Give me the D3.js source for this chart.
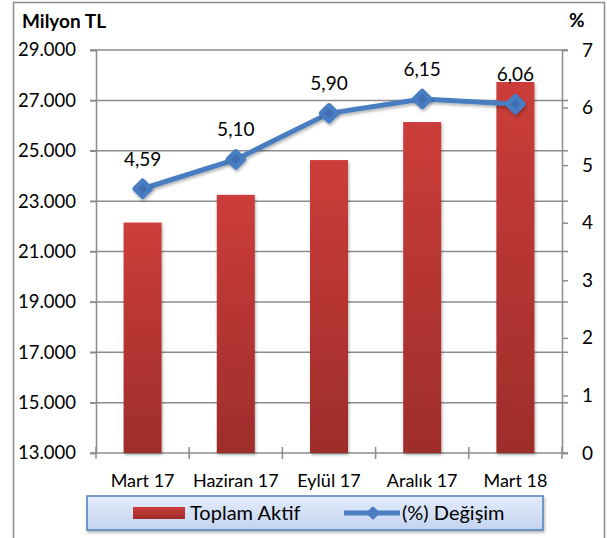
<!DOCTYPE html>
<html>
<head>
<meta charset="utf-8">
<script src="https://d3js.org/d3.v7.min.js"></script>
<style>
body { margin: 0; background: #fff; }
text { font-family: Lato, "Open Sans", sans-serif; }
</style>
</head>
<body>
<script>
// chart values
var categories = ["Mart 17", "Haziran 17", "Eylül 17", "Aralık 17", "Mart 18"];
var toplamAktif = [22150, 23250, 24630, 26140, 27730];
var degisim = [4.59, 5.10, 5.90, 6.15, 6.06];
var leftTicks = [13000, 15000, 17000, 19000, 21000, 23000, 25000, 27000, 29000];
var rightTicks = [0, 1, 2, 3, 4, 5, 6, 7];

var width = 607, height = 538;
var plotLeft = 96, plotRight = 562, plotTop = 50, plotBottom = 453;

var svg = d3.select("body").append("svg").attr("width", width).attr("height", height);
var defs = svg.append("defs");

var barGrad = defs.append("linearGradient").attr("id", "barGrad").attr("x1", 0).attr("y1", 0).attr("x2", 0).attr("y2", 1);
barGrad.append("stop").attr("offset", "0%").attr("stop-color", "#cc3d3a");
barGrad.append("stop").attr("offset", "100%").attr("stop-color", "#9e2d2b");

var legGrad = defs.append("linearGradient").attr("id", "legGrad").attr("x1", 0).attr("y1", 0).attr("x2", 0).attr("y2", 1);
legGrad.append("stop").attr("offset", "0%").attr("stop-color", "#e3ecfa");
legGrad.append("stop").attr("offset", "100%").attr("stop-color", "#c3d4f1");

var shadow = defs.append("filter").attr("id", "shadow").attr("x", "-30%").attr("y", "-30%").attr("width", "160%").attr("height", "160%");
shadow.append("feDropShadow").attr("dx", 1).attr("dy", 2).attr("stdDeviation", 1.5).attr("flood-color", "#000").attr("flood-opacity", 0.3);

// outer border
svg.append("rect").attr("x", 13.5).attr("y", 2.5).attr("width", 591).attr("height", 560)
  .attr("fill", "none").attr("stroke", "#8c8c8c").attr("stroke-width", 1.5);

var x = d3.scaleBand().domain(categories).range([plotLeft, plotRight]).paddingInner(0).paddingOuter(0);
var yL = d3.scaleLinear().domain([13000, 29000]).range([plotBottom, plotTop]);
var yR = d3.scaleLinear().domain([0, 7]).range([plotBottom, plotTop]);

// gridlines
svg.append("g").selectAll("line").data(leftTicks).join("line")
  .attr("x1", plotLeft - 6).attr("x2", plotRight + 6)
  .attr("y1", d => yL(d)).attr("y2", d => yL(d))
  .attr("stroke", "#8c8c8c").attr("stroke-width", 1.5);

// left axis
var axL = svg.append("g").attr("transform", "translate(" + plotLeft + ",0)")
  .call(d3.axisLeft(yL).tickValues(leftTicks).tickSize(6).tickPadding(14)
    .tickFormat(d => d3.format(",")(d).replace(",", ".") ));
axL.select(".domain").attr("stroke", "#8c8c8c").attr("stroke-width", 1.5);
axL.selectAll(".tick line").attr("stroke", "#8c8c8c").attr("stroke-width", 1.5);
axL.selectAll("text").attr("font-size", 18.5).attr("fill", "#000").attr("font-family", "Lato, sans-serif");

// right axis
var axR = svg.append("g").attr("transform", "translate(" + plotRight + ",0)")
  .call(d3.axisRight(yR).tickValues(rightTicks).tickSize(6).tickPadding(14).tickFormat(d3.format("d")));
axR.select(".domain").attr("stroke", "#8c8c8c").attr("stroke-width", 1.5);
axR.selectAll(".tick line").attr("stroke", "#8c8c8c").attr("stroke-width", 1.5);
axR.selectAll("text").attr("font-size", 19).attr("fill", "#000").attr("font-family", "Lato, sans-serif");

// bottom axis with ticks at category boundaries
svg.append("g").selectAll("line").data(d3.range(categories.length + 1)).join("line")
  .attr("x1", d => plotLeft + d * x.step()).attr("x2", d => plotLeft + d * x.step())
  .attr("y1", plotBottom - 6).attr("y2", plotBottom + 6)
  .attr("stroke", "#8c8c8c").attr("stroke-width", 1.5);
svg.append("g").selectAll("text").data(categories).join("text")
  .attr("x", d => x(d) + x.bandwidth() / 2).attr("y", 487)
  .attr("text-anchor", "middle").attr("font-size", 18).text(d => d);

// bars
var barW = 38;
svg.append("g").selectAll("rect").data(toplamAktif).join("rect")
  .attr("x", (d, i) => x(categories[i]) + x.bandwidth() / 2 - barW / 2)
  .attr("y", d => yL(d))
  .attr("width", barW)
  .attr("height", d => plotBottom - yL(d))
  .attr("fill", "url(#barGrad)")
  .attr("filter", "url(#shadow)");

// line
var line = d3.line().x((d, i) => x(categories[i]) + x.bandwidth() / 2).y(d => yR(d));
svg.append("path").datum(degisim).attr("d", line)
  .attr("fill", "none").attr("stroke", "#4a7dc1").attr("stroke-width", 5)
  .attr("filter", "url(#shadow)");

var markers = svg.append("g").selectAll("g").data(degisim).join("g")
  .attr("transform", (d, i) => "translate(" + (x(categories[i]) + x.bandwidth() / 2) + "," + yR(d) + ")")
  .attr("filter", "url(#shadow)");
markers.append("rect").attr("x", -8).attr("y", -8).attr("width", 16).attr("height", 16)
  .attr("rx", 2.5).attr("transform", "rotate(45)").attr("fill", "#4a7dc1");
markers.append("rect").attr("x", -3.5).attr("y", -3.5).attr("width", 7).attr("height", 7)
  .attr("transform", "rotate(45)").attr("fill", "#3f6fb3");

// value labels
svg.append("g").selectAll("text").data(degisim).join("text")
  .attr("x", (d, i) => x(categories[i]) + x.bandwidth() / 2)
  .attr("y", d => yR(d) - 23)
  .attr("text-anchor", "middle").attr("font-size", 19)
  .text(d => d.toFixed(2).replace(".", ","));

// axis titles
svg.append("text").attr("x", 22).attr("y", 28).attr("font-size", 19).attr("font-weight", "bold").text("Milyon TL");
svg.append("text").attr("x", 569).attr("y", 27).attr("font-size", 19).attr("font-weight", "bold").text("%");

// legend
var leg = svg.append("g");
leg.append("rect").attr("x", 87).attr("y", 496).attr("width", 456).attr("height", 34)
  .attr("fill", "url(#legGrad)").attr("stroke", "#4f81bd").attr("stroke-width", 1.5)
  .attr("filter", "url(#shadow)");
leg.append("rect").attr("x", 133).attr("y", 507).attr("width", 52).attr("height", 12).attr("fill", "url(#barGrad)");
leg.append("text").attr("x", 190).attr("y", 520).attr("font-size", 20).text("Toplam Aktif");
leg.append("line").attr("x1", 344).attr("x2", 400).attr("y1", 513).attr("y2", 513)
  .attr("stroke", "#4a7dc1").attr("stroke-width", 5);
leg.append("rect").attr("x", -5).attr("y", -5).attr("width", 10).attr("height", 10).attr("rx", 1.5)
  .attr("transform", "translate(373,513) rotate(45)").attr("fill", "#4a7dc1");
leg.append("text").attr("x", 402).attr("y", 520).attr("font-size", 20).text("(%) Değişim");
</script>
</body>
</html>
